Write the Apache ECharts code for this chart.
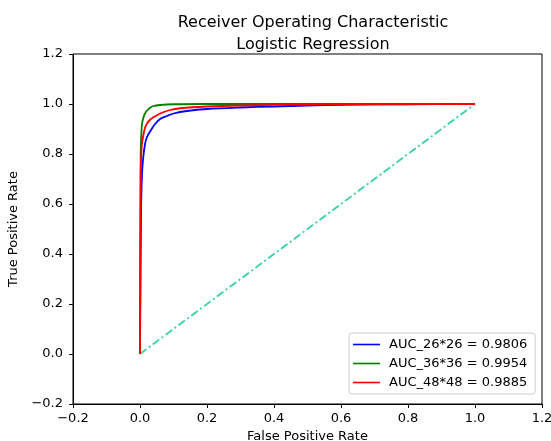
<!DOCTYPE html>
<html><head><meta charset="utf-8">
<script src="https://cdn.jsdelivr.net/npm/echarts@6/dist/echarts.min.js"></script>
<style>html,body{margin:0;padding:0;background:#fff}#c{width:551px;height:441px}</style>
</head><body><div id="c"></div>
<script>
const seriesNames = ['AUC_26*26 = 0.9806', 'AUC_36*36 = 0.9954', 'AUC_48*48 = 0.9885'];
const seriesColors = ['#0000ff', '#008000', '#ff0000'];
const fpr26 = [0, 0.003, 0.006, 0.01, 0.015, 0.02, 0.03, 0.045, 0.06, 0.08, 0.1, 0.14, 0.2, 0.3, 0.4, 0.5, 0.6, 0.8, 1.0];
const tpr26 = [0, 0.55, 0.72, 0.79, 0.84, 0.865, 0.89, 0.92, 0.94, 0.952, 0.962, 0.972, 0.98, 0.986, 0.99, 0.994, 0.997, 0.999, 1.0];
const fpr36 = [0, 0.002, 0.004, 0.006, 0.01, 0.015, 0.02, 0.03, 0.04, 0.06, 0.1, 0.2, 0.5, 1.0];
const tpr36 = [0, 0.8, 0.88, 0.92, 0.945, 0.962, 0.972, 0.985, 0.992, 0.996, 0.999, 1.0, 1.0, 1.0];
const fpr48 = [0, 0.002, 0.005, 0.01, 0.015, 0.02, 0.03, 0.04, 0.06, 0.09, 0.12, 0.2, 0.3, 0.5, 0.7, 1.0];
const tpr48 = [0, 0.7, 0.83, 0.875, 0.905, 0.92, 0.937, 0.947, 0.962, 0.976, 0.983, 0.99, 0.994, 0.998, 0.999, 1.0];
const diagX = [0, 1];
const diagY = [0, 1];
const xTicks = [-0.2, 0.0, 0.2, 0.4, 0.6, 0.8, 1.0, 1.2];
const yTicks = [-0.2, 0.0, 0.2, 0.4, 0.6, 0.8, 1.0, 1.2];

const zip = (a, b) => a.map((v, i) => [v, b[i]]);
const font = 'DejaVu Sans';
const chart = echarts.init(document.getElementById('c'), null, {renderer: 'canvas'});
const axisCommon = {
  type: 'value', min: -0.2, max: 1.2, interval: 0.2,
  axisLine: {show: true, onZero: false, lineStyle: {color: '#000', width: 1}},
  axisTick: {show: true, inside: false, length: 4, lineStyle: {color: '#000'}},
  splitLine: {show: false},
  axisLabel: {color: '#000', fontFamily: font, fontSize: 13, formatter: v => (v < 0 ? '\u2212' : '') + Math.abs(v).toFixed(1)},
  nameTextStyle: {color: '#000', fontFamily: font, fontSize: 13}
};
chart.setOption({
  animation: false,
  backgroundColor: '#fff',
  title: {
    text: 'Receiver Operating Characteristic\nLogistic Regression',
    left: 308, top: 7, textAlign: 'center',
    textStyle: {fontFamily: font, fontSize: 16, fontWeight: 'normal', color: '#000', lineHeight: 22}
  },
  grid: {left: 73, right: 9, top: 54, bottom: 37, outerBoundsMode: 'none', containLabel: false, show: true, borderColor: '#000', borderWidth: 1, backgroundColor: 'transparent'},
  xAxis: Object.assign({}, axisCommon, {name: 'False Positive Rate', nameLocation: 'middle', nameGap: 22, axisLabel: Object.assign({}, axisCommon.axisLabel, {margin: 8})}),
  yAxis: Object.assign({}, axisCommon, {name: 'True Positive Rate', nameLocation: 'middle', nameGap: 50, axisLabel: Object.assign({}, axisCommon.axisLabel, {margin: 10})}),
  legend: {
    orient: 'vertical', left: 349, top: 333,
    backgroundColor: '#fff', borderColor: '#ccc', borderWidth: 1, borderRadius: 3,
    padding: [5, 8, 5, 4], itemGap: 6, itemWidth: 27, itemHeight: 13,
    textStyle: {fontFamily: font, fontSize: 13, color: '#000', padding: [0, 0, 0, 4]},
    data: seriesNames.map((n, i) => ({name: n, icon: 'path://M0,6L27,6L27,7.6L0,7.6Z', itemStyle: {color: seriesColors[i]}}))
  },
  series: [
    {name: seriesNames[0], type: 'line', data: zip(fpr26, tpr26), smooth: 0.3, symbol: 'none', lineStyle: {color: seriesColors[0], width: 1.8}, itemStyle: {color: seriesColors[0]}, z: 3},
    {name: seriesNames[1], type: 'line', data: zip(fpr36, tpr36), smooth: 0.3, symbol: 'none', lineStyle: {color: seriesColors[1], width: 1.8}, itemStyle: {color: seriesColors[1]}, z: 4},
    {name: seriesNames[2], type: 'line', data: zip(fpr48, tpr48), smooth: 0.3, symbol: 'none', lineStyle: {color: seriesColors[2], width: 1.8}, itemStyle: {color: seriesColors[2]}, z: 5},
    {name: 'diag', type: 'line', data: zip(diagX, diagY), symbol: 'none', lineStyle: {color: '#35d0a5', width: 1.8, type: [8, 3, 2, 3]}, z: 2}
  ]
});
</script></body></html>
